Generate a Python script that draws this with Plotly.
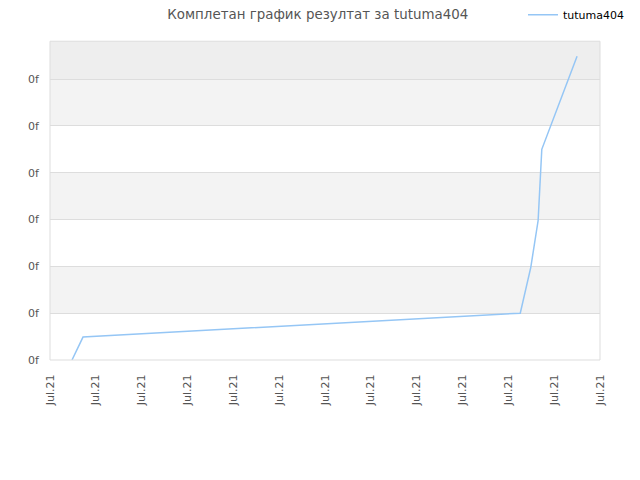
import plotly.graph_objects as go

# data (x in tick-interval units, y in gridline units)
x_vals = [0.48, 0.72, 10.26, 10.49, 10.65, 10.73, 11.5]
y_vals = [0.0, 0.49, 1.0, 1.98, 2.98, 4.5, 6.49]
x_tick_labels = ["Jul.21"] * 13
y_tick_values = [0, 1, 2, 3, 4, 5, 6]
y_tick_labels = ["0f"] * 7
series_name = "tutuma404"
title = "Комплетан график резултат за tutuma404"

fig = go.Figure()
fig.add_trace(go.Scatter(x=x_vals, y=y_vals, mode="lines", name=series_name,
                         line=dict(color="#95c6f5", width=1.5)))

shapes = []
for lo in [1, 3, 5]:
    shapes.append(dict(type="rect", xref="paper", yref="y", x0=0, x1=1, y0=lo, y1=lo + 1,
                       fillcolor="#f3f3f3", line=dict(width=0), layer="below"))
shapes.append(dict(type="rect", xref="paper", yref="y", x0=0, x1=1, y0=6, y1=6.81,
                   fillcolor="#eeeeee", line=dict(width=0), layer="below"))
shapes.append(dict(type="rect", xref="paper", yref="paper", x0=0, x1=1, y0=0, y1=1,
                   fillcolor="rgba(0,0,0,0)", line=dict(width=1, color="#dddddd"), layer="above"))
fig.update_layout(
    width=640, height=480,
    margin=dict(l=42, r=48, t=32, b=128),
    paper_bgcolor="white", plot_bgcolor="white",
    font=dict(family="DejaVu Sans", size=11, color="#555555"),
    title=dict(text=title, x=0.484, xanchor="center", y=0.986, yanchor="middle",
               font=dict(size=13.4, color="#555555")),
    showlegend=True,
    legend=dict(x=0.86, y=0.986, xanchor="left", yanchor="middle", yref="container",
                font=dict(size=11, color="#000000"), bgcolor="rgba(0,0,0,0)"),
    shapes=shapes,
    xaxis=dict(range=[0, 12], tickvals=list(range(13)), ticktext=x_tick_labels,
               tickangle=-90, showgrid=False, zeroline=False, showline=False,
               ticks="outside", ticklen=9, tickcolor="rgba(0,0,0,0)",
               tickfont=dict(size=11, color="#555555")),
    yaxis=dict(range=[0, 6.81], tickvals=y_tick_values, ticktext=y_tick_labels,
               showgrid=True, gridcolor="#dddddd", gridwidth=1, zeroline=False,
               showline=False, ticks="outside", ticklen=8, tickcolor="rgba(0,0,0,0)",
               tickfont=dict(size=11, color="#555555")),
)
fig.write_html("out.html")
